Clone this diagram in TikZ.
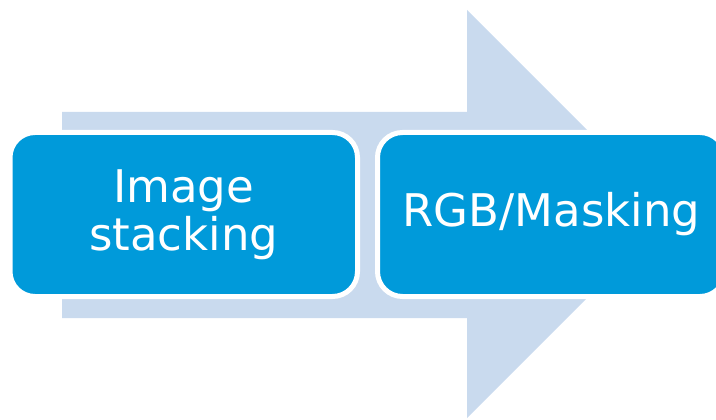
\documentclass[tikz,border=0pt]{standalone}
\usepackage{fontspec}
\setmainfont{DejaVu Sans}
\definecolor{boxblue}{RGB}{0,154,218}
\definecolor{arrowblue}{RGB}{201,218,238}
\begin{document}
\begin{tikzpicture}[x=1pt,y=-1pt,
  stepbox/.style={draw=white, line width=5pt, fill=boxblue, rounded corners=25pt,
    text=white, font=\fontsize{45}{48}\selectfont, align=center,
    minimum width=347.5pt, minimum height=164pt, inner sep=0pt}]
\useasboundingbox (0,0) rectangle (716,420);
\clip (0,0) rectangle (716,420);
\fill[arrowblue] (62,112) -- (467,112) -- (467,10) -- (671,214) -- (467,418) -- (467,318) -- (62,318) -- cycle;
\node[stepbox] (a) at (183.75,214.5) {Image\\stacking};
\node[stepbox] (b) at (551.25,214.5) {RGB/Masking};
\end{tikzpicture}
\end{document}
